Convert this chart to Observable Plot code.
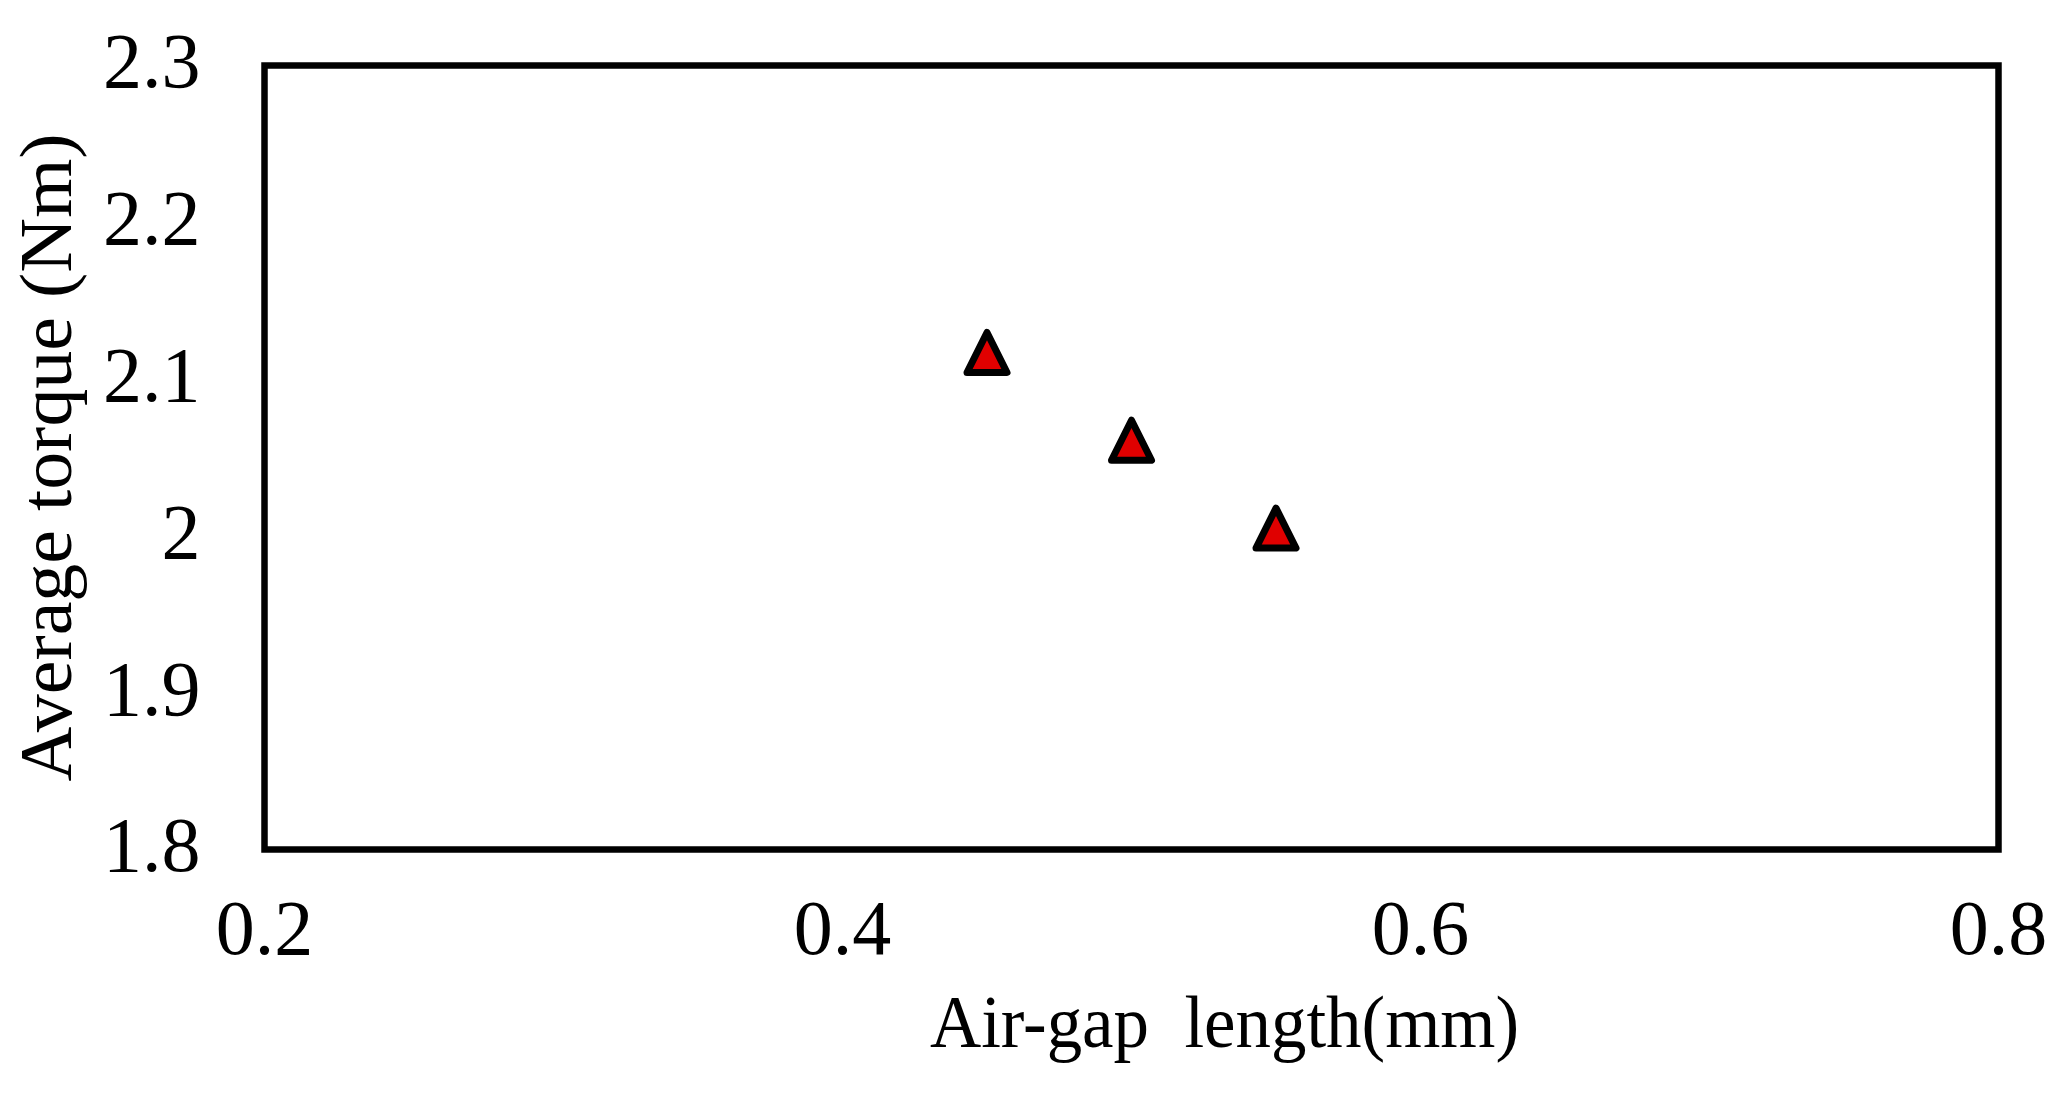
<!DOCTYPE html>
<html>
<head>
<meta charset="utf-8">
<script src="https://cdn.jsdelivr.net/npm/d3@7"></script>
<script src="https://cdn.jsdelivr.net/npm/@observablehq/plot@0.6"></script>
<style>
  html, body { margin: 0; padding: 0; background: #fff; }
  #chart svg { display: block; }
</style>
</head>
<body>
<div id="chart"></div>
<script>
// Data
const airGap = [0.45, 0.50, 0.55];          // mm
const avgTorque = [2.117, 2.061, 2.005];    // Nm
const xTicks = [0.2, 0.4, 0.6, 0.8];
const yTicks = [1.8, 1.9, 2.0, 2.1, 2.2, 2.3];
const xTitle = "Air-gap\u00a0\u00a0length(mm)";
const yTitle = "Average torque (Nm)";

const points = airGap.map((x, i) => ({x, y: avgTorque[i]}));
const fmt = d => String(+d.toFixed(1));

// Isosceles triangle marker (equal width and height), centred on its box
const triangle = {
  draw(context, size) {
    const r = Math.sqrt(size / Math.PI);
    context.moveTo(0, -r);
    context.lineTo(r, r);
    context.lineTo(-r, r);
    context.closePath();
  }
};

const serif = "'Liberation Serif', 'Times New Roman', serif";

const chart = Plot.plot({
  width: 2066,
  height: 1095,
  marginLeft: 264,
  marginRight: 68,
  marginTop: 65,
  marginBottom: 246,
  style: {fontFamily: serif, fontSize: "78px", color: "#000", background: "#fff"},
  x: {domain: [0.2, 0.8]},
  y: {domain: [1.8, 2.3]},
  marks: [
    Plot.axisX({ticks: xTicks, tickFormat: fmt, tickSize: 0, tickPadding: 49, label: null, fontSize: 78}),
    Plot.axisY({ticks: yTicks, tickFormat: fmt, tickSize: 0, tickPadding: 64, label: null, fontSize: 78, dy: -3}),
    Plot.frame({stroke: "#000", strokeWidth: 6.5}),
    Plot.dot(points, {
      x: "x", y: "y", symbol: triangle, r: 20,
      fill: "#e00000", stroke: "#000", strokeWidth: 7, strokeLinejoin: "round"
    }),
    Plot.text([xTitle], {
      frameAnchor: "bottom", text: d => d, lineAnchor: "top", textAnchor: "middle",
      dx: 93, dy: 144, fontSize: 75, fill: "#000"
    }),
    Plot.text([yTitle], {
      frameAnchor: "left", text: d => d, rotate: -90, lineAnchor: "middle", textAnchor: "middle",
      dx: -218, dy: 0, fontSize: 75, fill: "#000"
    })
  ]
});

// Match the reference's axis-title widths
d3.select(chart).selectAll("text")
  .filter(function() { return this.textContent === xTitle; })
  .attr("textLength", 589).attr("lengthAdjust", "spacingAndGlyphs");
d3.select(chart).selectAll("text")
  .filter(function() { return this.textContent === yTitle; })
  .attr("textLength", 648).attr("lengthAdjust", "spacingAndGlyphs");

document.getElementById("chart").appendChild(chart);
</script>
</body>
</html>
